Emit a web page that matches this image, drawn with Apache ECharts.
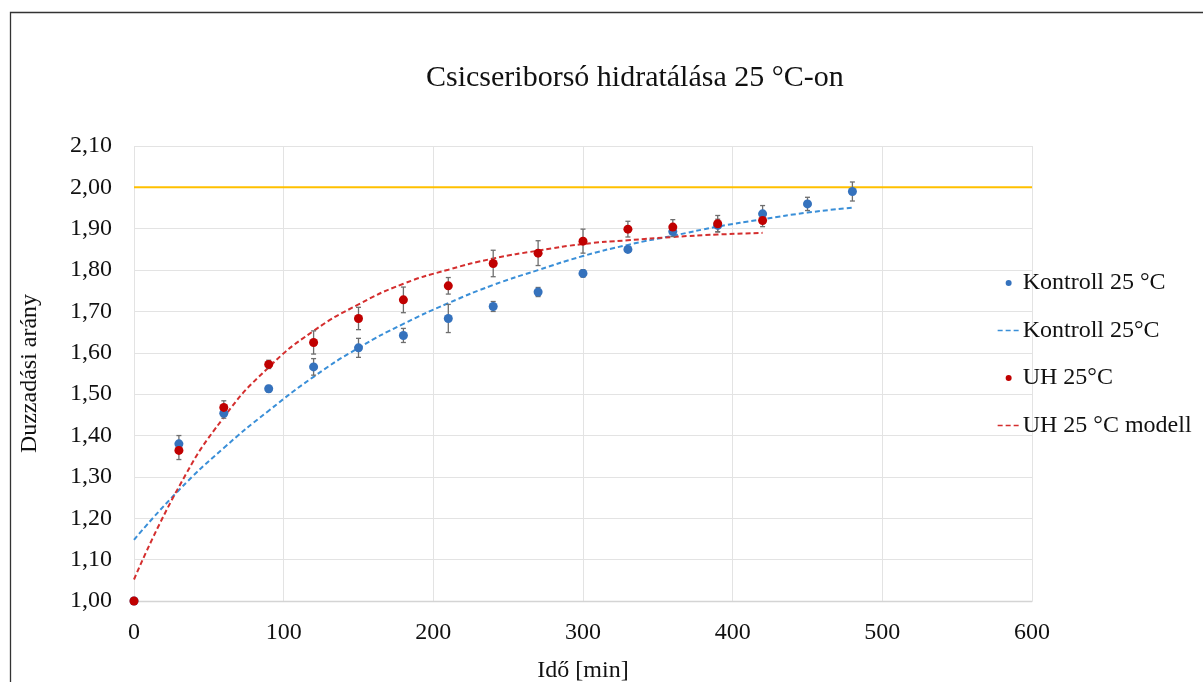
<!DOCTYPE html>
<html>
<head>
<meta charset="utf-8">
<script src="https://cdn.jsdelivr.net/npm/echarts@6/dist/echarts.min.js"></script>
<style>
    html, body { margin: 0; padding: 0; background: #fff; }
    #chart { width: 1203px; height: 682px; }
</style>
</head>
<body>
<div id="chart"></div>
<script>
const kontrollTimes = [0, 30, 60, 90, 120, 150, 180, 210, 240, 270, 300, 330, 360, 390, 420, 450, 480];
const kontrollMean = [1.000, 1.380, 1.454, 1.513, 1.566, 1.612, 1.642, 1.683, 1.712, 1.747, 1.792, 1.850, 1.893, 1.908, 1.936, 1.960, 1.990];
const kontrollErr = [0, 0.020, 0.012, 0.008, 0.020, 0.023, 0.017, 0.034, 0.012, 0.011, 0.009, 0.006, 0.012, 0.015, 0.020, 0.016, 0.023];
const kontrollModel = [1.148, 1.268, 1.370, 1.460, 1.542, 1.612, 1.670, 1.720, 1.764, 1.800, 1.834, 1.861, 1.883, 1.905, 1.923, 1.939, 1.951];

const uhTimes = [0, 30, 60, 90, 120, 150, 180, 210, 240, 270, 300, 330, 360, 390, 420];
const uhMean = [1.000, 1.364, 1.468, 1.572, 1.625, 1.683, 1.728, 1.762, 1.816, 1.841, 1.870, 1.899, 1.904, 1.912, 1.920];
const uhErr = [0, 0.022, 0.016, 0.010, 0.028, 0.027, 0.031, 0.020, 0.032, 0.030, 0.029, 0.019, 0.018, 0.020, 0.015];
const uhModel = [1.052, 1.276, 1.444, 1.565, 1.653, 1.717, 1.767, 1.801, 1.828, 1.847, 1.863, 1.872, 1.880, 1.886, 1.890];

const limitX = [0, 600];
const limitY = [2.0, 2.0];

const seriesNames = ['Kontroll 25 °C', 'Kontroll 25°C', 'UH 25°C', 'UH 25 °C modell'];

const FONT = 'Liberation Serif';
const BLUE = '#3572bd';
const BLUE_LINE = '#3a8fd8';
const RED = '#c00000';
const RED_LINE = '#d42e2e';

const pairs = (xs, ys) => xs.map((x, i) => [x, ys[i]]);
const errData = (xs, ys, es) => xs.map((x, i) => [x, ys[i] - es[i], ys[i] + es[i]]);

const renderErrorBar = (params, api) => {
    const lo = api.coord([api.value(0), api.value(1)]);
    const hi = api.coord([api.value(0), api.value(2)]);
    const cap = 2.5;
    const style = { stroke: '#6e6e6e', lineWidth: 1.3 };
    return {
        type: 'group',
        children: [
            { type: 'line', shape: { x1: lo[0], y1: lo[1], x2: hi[0], y2: hi[1] }, style },
            { type: 'line', shape: { x1: lo[0] - cap, y1: lo[1], x2: lo[0] + cap, y2: lo[1] }, style },
            { type: 'line', shape: { x1: hi[0] - cap, y1: hi[1], x2: hi[0] + cap, y2: hi[1] }, style },
        ],
    };
};

const chart = echarts.init(document.getElementById('chart'));

const options = {
    animation: false,
    backgroundColor: '#fff',
    textStyle: { fontFamily: FONT },
    title: {
        text: 'Csicseriborsó hidratálása 25 °C-on',
        left: 426,
        top: 63,
        padding: 0,
        textStyle: { fontFamily: FONT, fontSize: 30, fontWeight: 'normal', color: '#111' },
    },
    graphic: [
        {
            type: 'rect',
            shape: { x: 10.5, y: 12.5, width: 1300, height: 1000 },
            style: { fill: 'none', stroke: '#333', lineWidth: 1.3 },
            silent: true,
        },
    ],
    legend: {
        orient: 'vertical',
        left: 997,
        top: 271,
        padding: 0,
        itemWidth: 22,
        itemHeight: 6,
        itemGap: 23.5,
        itemStyle: { opacity: 1 },
        textStyle: { fontFamily: FONT, fontSize: 24, color: '#111', padding: [0, 0, 0, -2] },
        lineStyle: { width: 1.3 },
        data: [
            { name: seriesNames[0], icon: 'circle' },
            { name: seriesNames[1], itemStyle: { opacity: 0 } },
            { name: seriesNames[2], icon: 'circle' },
            { name: seriesNames[3], itemStyle: { opacity: 0 } },
        ],
    },
    grid: { left: 134, right: 171, top: 146, bottom: 81, outerBoundsMode: 'none' },
    xAxis: {
        type: 'value',
        min: 0,
        max: 600,
        interval: 100,
        name: 'Idő [min]',
        nameLocation: 'middle',
        nameGap: 58,
        nameTextStyle: { fontFamily: FONT, fontSize: 24, color: '#111' },
        axisLine: { show: true, lineStyle: { color: '#d4d4d4', width: 1.3 } },
        axisTick: { show: false },
        axisLabel: { fontFamily: FONT, fontSize: 24, color: '#111', margin: 20 },
        splitLine: { show: true, lineStyle: { color: '#e3e3e3' } },
    },
    yAxis: {
        type: 'value',
        min: 1,
        max: 2.1,
        interval: 0.1,
        name: 'Duzzadási arány',
        nameLocation: 'middle',
        nameGap: 92,
        nameTextStyle: { fontFamily: FONT, fontSize: 24, color: '#111' },
        axisLine: { show: false },
        axisTick: { show: false },
        axisLabel: {
            fontFamily: FONT, fontSize: 24, color: '#111', margin: 22,
            formatter: v => v.toFixed(2).replace('.', ','),
        },
        splitLine: { show: true, lineStyle: { color: '#e3e3e3' } },
    },
    series: [
        {
            name: 'limit',
            type: 'line',
            data: pairs(limitX, limitY),
            symbol: 'none',
            lineStyle: { color: '#ffc000', width: 2 },
            silent: true,
            z: 1,
        },
        {
            name: seriesNames[1],
            type: 'line',
            data: pairs(kontrollTimes, kontrollModel),
            smooth: true,
            symbol: 'none',
            color: BLUE_LINE,
            lineStyle: { color: BLUE_LINE, width: 2, type: [5, 3] },
            z: 2,
        },
        {
            name: seriesNames[3],
            type: 'line',
            data: pairs(uhTimes, uhModel),
            smooth: true,
            symbol: 'none',
            color: RED_LINE,
            lineStyle: { color: RED_LINE, width: 2, type: [5, 3] },
            z: 2,
        },
        {
            name: 'kontroll-err',
            type: 'custom',
            renderItem: renderErrorBar,
            data: errData(kontrollTimes, kontrollMean, kontrollErr),
            encode: { x: 0, y: [1, 2] },
            z: 3,
            silent: true,
        },
        {
            name: 'uh-err',
            type: 'custom',
            renderItem: renderErrorBar,
            data: errData(uhTimes, uhMean, uhErr),
            encode: { x: 0, y: [1, 2] },
            z: 3,
            silent: true,
        },
        {
            name: seriesNames[0],
            type: 'scatter',
            data: pairs(kontrollTimes, kontrollMean),
            symbolSize: 9,
            itemStyle: { color: BLUE, opacity: 1 },
            z: 4,
        },
        {
            name: seriesNames[2],
            type: 'scatter',
            data: pairs(uhTimes, uhMean),
            symbolSize: 9,
            itemStyle: { color: RED, opacity: 1 },
            z: 5,
        },
    ],
};

chart.setOption(options);
</script>
</body>
</html>
